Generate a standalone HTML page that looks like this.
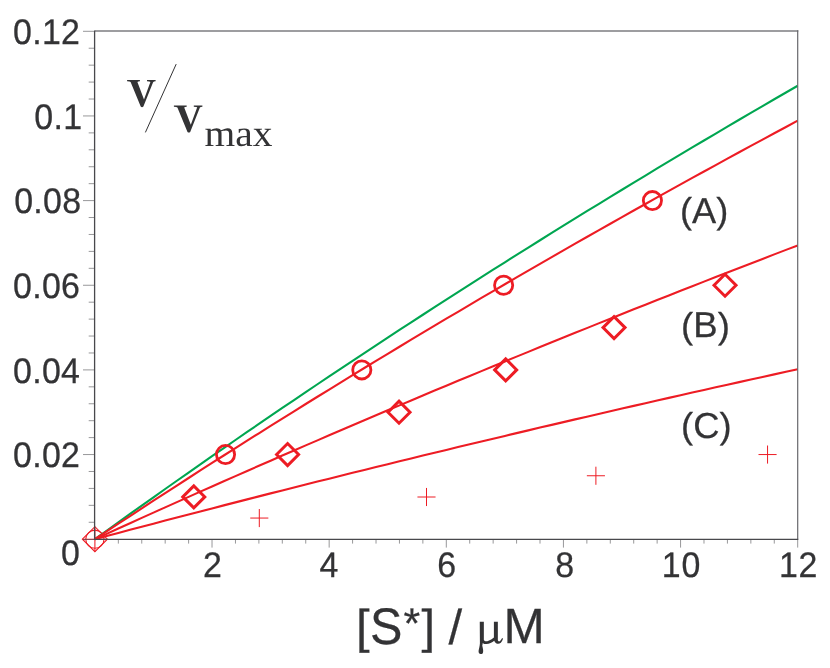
<!DOCTYPE html>
<html><head><meta charset="utf-8"><title>chart</title>
<style>html,body{margin:0;padding:0;background:#fff}svg{display:block;will-change:transform}text{text-rendering:geometricPrecision}</style></head>
<body>
<svg width="830" height="668" viewBox="0 0 830 668">
<rect width="830" height="668" fill="#fff"/>
<g fill="none" stroke="#ed1c24">
<g stroke-width="1.05">
<circle cx="94.9" cy="539.2" r="9.1"/>
<path d="M82.4 539.2 L94.9 526.7 L107.4 539.2 L94.9 551.7 Z"/>
<path d="M82.4 539.2 H107.4 M94.9 526.7 V551.7"/>
</g>
</g>
<line x1="83" y1="539.45" x2="94.9" y2="539.45" stroke="#5a4a50" stroke-width="0.75"/>
<line x1="88.7" y1="522.27" x2="94.9" y2="522.27" stroke="#98989a" stroke-width="1"/>
<line x1="88.7" y1="505.34" x2="94.9" y2="505.34" stroke="#98989a" stroke-width="1"/>
<line x1="88.7" y1="488.41" x2="94.9" y2="488.41" stroke="#98989a" stroke-width="1"/>
<line x1="88.7" y1="471.48" x2="94.9" y2="471.48" stroke="#98989a" stroke-width="1"/>
<line x1="83" y1="454.55" x2="94.9" y2="454.55" stroke="#98989a" stroke-width="1"/>
<line x1="88.7" y1="437.62" x2="94.9" y2="437.62" stroke="#98989a" stroke-width="1"/>
<line x1="88.7" y1="420.69" x2="94.9" y2="420.69" stroke="#98989a" stroke-width="1"/>
<line x1="88.7" y1="403.76" x2="94.9" y2="403.76" stroke="#98989a" stroke-width="1"/>
<line x1="88.7" y1="386.83" x2="94.9" y2="386.83" stroke="#98989a" stroke-width="1"/>
<line x1="83" y1="369.90" x2="94.9" y2="369.90" stroke="#98989a" stroke-width="1"/>
<line x1="88.7" y1="352.97" x2="94.9" y2="352.97" stroke="#98989a" stroke-width="1"/>
<line x1="88.7" y1="336.04" x2="94.9" y2="336.04" stroke="#98989a" stroke-width="1"/>
<line x1="88.7" y1="319.11" x2="94.9" y2="319.11" stroke="#98989a" stroke-width="1"/>
<line x1="88.7" y1="302.18" x2="94.9" y2="302.18" stroke="#98989a" stroke-width="1"/>
<line x1="83" y1="285.25" x2="94.9" y2="285.25" stroke="#98989a" stroke-width="1"/>
<line x1="88.7" y1="268.32" x2="94.9" y2="268.32" stroke="#98989a" stroke-width="1"/>
<line x1="88.7" y1="251.39" x2="94.9" y2="251.39" stroke="#98989a" stroke-width="1"/>
<line x1="88.7" y1="234.46" x2="94.9" y2="234.46" stroke="#98989a" stroke-width="1"/>
<line x1="88.7" y1="217.53" x2="94.9" y2="217.53" stroke="#98989a" stroke-width="1"/>
<line x1="83" y1="200.60" x2="94.9" y2="200.60" stroke="#98989a" stroke-width="1"/>
<line x1="88.7" y1="183.67" x2="94.9" y2="183.67" stroke="#98989a" stroke-width="1"/>
<line x1="88.7" y1="166.74" x2="94.9" y2="166.74" stroke="#98989a" stroke-width="1"/>
<line x1="88.7" y1="149.81" x2="94.9" y2="149.81" stroke="#98989a" stroke-width="1"/>
<line x1="88.7" y1="132.88" x2="94.9" y2="132.88" stroke="#98989a" stroke-width="1"/>
<line x1="83" y1="115.95" x2="94.9" y2="115.95" stroke="#98989a" stroke-width="1"/>
<line x1="88.7" y1="99.02" x2="94.9" y2="99.02" stroke="#98989a" stroke-width="1"/>
<line x1="88.7" y1="82.09" x2="94.9" y2="82.09" stroke="#98989a" stroke-width="1"/>
<line x1="88.7" y1="65.16" x2="94.9" y2="65.16" stroke="#98989a" stroke-width="1"/>
<line x1="88.7" y1="48.23" x2="94.9" y2="48.23" stroke="#98989a" stroke-width="1"/>
<line x1="83" y1="31.30" x2="94.9" y2="31.30" stroke="#98989a" stroke-width="1"/>
<line x1="118.33" y1="539.2" x2="118.33" y2="543.6" stroke="#98989a" stroke-width="1"/>
<line x1="141.75" y1="539.2" x2="141.75" y2="543.6" stroke="#98989a" stroke-width="1"/>
<line x1="165.18" y1="539.2" x2="165.18" y2="543.6" stroke="#98989a" stroke-width="1"/>
<line x1="188.61" y1="539.2" x2="188.61" y2="543.6" stroke="#98989a" stroke-width="1"/>
<line x1="212.03" y1="539.2" x2="212.03" y2="547.6" stroke="#98989a" stroke-width="1"/>
<line x1="235.46" y1="539.2" x2="235.46" y2="543.6" stroke="#98989a" stroke-width="1"/>
<line x1="258.89" y1="539.2" x2="258.89" y2="543.6" stroke="#98989a" stroke-width="1"/>
<line x1="282.31" y1="539.2" x2="282.31" y2="543.6" stroke="#98989a" stroke-width="1"/>
<line x1="305.74" y1="539.2" x2="305.74" y2="543.6" stroke="#98989a" stroke-width="1"/>
<line x1="329.17" y1="539.2" x2="329.17" y2="547.6" stroke="#98989a" stroke-width="1"/>
<line x1="352.59" y1="539.2" x2="352.59" y2="543.6" stroke="#98989a" stroke-width="1"/>
<line x1="376.02" y1="539.2" x2="376.02" y2="543.6" stroke="#98989a" stroke-width="1"/>
<line x1="399.45" y1="539.2" x2="399.45" y2="543.6" stroke="#98989a" stroke-width="1"/>
<line x1="422.87" y1="539.2" x2="422.87" y2="543.6" stroke="#98989a" stroke-width="1"/>
<line x1="446.30" y1="539.2" x2="446.30" y2="547.6" stroke="#98989a" stroke-width="1"/>
<line x1="469.73" y1="539.2" x2="469.73" y2="543.6" stroke="#98989a" stroke-width="1"/>
<line x1="493.15" y1="539.2" x2="493.15" y2="543.6" stroke="#98989a" stroke-width="1"/>
<line x1="516.58" y1="539.2" x2="516.58" y2="543.6" stroke="#98989a" stroke-width="1"/>
<line x1="540.01" y1="539.2" x2="540.01" y2="543.6" stroke="#98989a" stroke-width="1"/>
<line x1="563.43" y1="539.2" x2="563.43" y2="547.6" stroke="#98989a" stroke-width="1"/>
<line x1="586.86" y1="539.2" x2="586.86" y2="543.6" stroke="#98989a" stroke-width="1"/>
<line x1="610.29" y1="539.2" x2="610.29" y2="543.6" stroke="#98989a" stroke-width="1"/>
<line x1="633.71" y1="539.2" x2="633.71" y2="543.6" stroke="#98989a" stroke-width="1"/>
<line x1="657.14" y1="539.2" x2="657.14" y2="543.6" stroke="#98989a" stroke-width="1"/>
<line x1="680.57" y1="539.2" x2="680.57" y2="547.6" stroke="#98989a" stroke-width="1"/>
<line x1="703.99" y1="539.2" x2="703.99" y2="543.6" stroke="#98989a" stroke-width="1"/>
<line x1="727.42" y1="539.2" x2="727.42" y2="543.6" stroke="#98989a" stroke-width="1"/>
<line x1="750.85" y1="539.2" x2="750.85" y2="543.6" stroke="#98989a" stroke-width="1"/>
<line x1="774.27" y1="539.2" x2="774.27" y2="543.6" stroke="#98989a" stroke-width="1"/>
<line x1="797.70" y1="539.2" x2="797.70" y2="547.6" stroke="#98989a" stroke-width="1"/>
<g fill="none" stroke-width="2.1" stroke-linecap="butt" stroke-linejoin="round">
<polyline points="94.90,539.20 106.61,530.75 118.33,522.34 130.04,513.96 141.75,505.61 153.47,497.29 165.18,489.01 176.89,480.76 188.61,472.55 200.32,464.36 212.03,456.21 223.75,448.09 235.46,440.00 247.17,431.94 258.89,423.92 270.60,415.92 282.31,407.96 294.03,400.03 305.74,392.12 317.45,384.25 329.17,376.41 340.88,368.60 352.59,360.82 364.31,353.07 376.02,345.35 387.73,337.65 399.45,329.99 411.16,322.35 422.87,314.75 434.59,307.17 446.30,299.62 458.01,292.10 469.73,284.61 481.44,277.15 493.15,269.71 504.87,262.31 516.58,254.93 528.29,247.58 540.01,240.25 551.72,232.95 563.43,225.68 575.15,218.44 586.86,211.22 598.57,204.03 610.29,196.87 622.00,189.73 633.71,182.62 645.43,175.53 657.14,168.47 668.85,161.44 680.57,154.43 692.28,147.44 703.99,140.49 715.71,133.55 727.42,126.65 739.13,119.76 750.85,112.91 762.56,106.07 774.27,99.26 785.99,92.48 797.70,85.72" stroke="#00a651"/>
<polyline points="94.90,539.20 106.61,531.45 118.33,523.73 130.04,516.03 141.75,508.37 153.47,500.73 165.18,493.13 176.89,485.55 188.61,478.00 200.32,470.47 212.03,462.98 223.75,455.51 235.46,448.07 247.17,440.66 258.89,433.28 270.60,425.92 282.31,418.59 294.03,411.29 305.74,404.01 317.45,396.76 329.17,389.54 340.88,382.34 352.59,375.17 364.31,368.02 376.02,360.90 387.73,353.81 399.45,346.74 411.16,339.70 422.87,332.68 434.59,325.69 446.30,318.72 458.01,311.78 469.73,304.86 481.44,297.97 493.15,291.10 504.87,284.25 516.58,277.43 528.29,270.64 540.01,263.86 551.72,257.12 563.43,250.39 575.15,243.69 586.86,237.01 598.57,230.36 610.29,223.73 622.00,217.12 633.71,210.53 645.43,203.97 657.14,197.43 668.85,190.92 680.57,184.42 692.28,177.95 703.99,171.50 715.71,165.07 727.42,158.67 739.13,152.28 750.85,145.92 762.56,139.58 774.27,133.27 785.99,126.97 797.70,120.69" stroke="#ed1c24"/>
<polyline points="94.90,539.20 106.61,533.85 118.33,528.52 130.04,523.20 141.75,517.90 153.47,512.62 165.18,507.35 176.89,502.10 188.61,496.87 200.32,491.65 212.03,486.45 223.75,481.27 235.46,476.10 247.17,470.94 258.89,465.81 270.60,460.68 282.31,455.58 294.03,450.49 305.74,445.41 317.45,440.35 329.17,435.31 340.88,430.28 352.59,425.27 364.31,420.27 376.02,415.29 387.73,410.32 399.45,405.36 411.16,400.43 422.87,395.50 434.59,390.59 446.30,385.70 458.01,380.82 469.73,375.96 481.44,371.11 493.15,366.27 504.87,361.45 516.58,356.64 528.29,351.85 540.01,347.07 551.72,342.31 563.43,337.56 575.15,332.82 586.86,328.10 598.57,323.39 610.29,318.69 622.00,314.01 633.71,309.35 645.43,304.69 657.14,300.05 668.85,295.43 680.57,290.81 692.28,286.21 703.99,281.63 715.71,277.06 727.42,272.50 739.13,267.95 750.85,263.42 762.56,258.90 774.27,254.39 785.99,249.89 797.70,245.41" stroke="#ed1c24"/>
<polyline points="94.90,539.20 106.61,536.07 118.33,532.95 130.04,529.84 141.75,526.75 153.47,523.66 165.18,520.59 176.89,517.52 188.61,514.47 200.32,511.43 212.03,508.40 223.75,505.37 235.46,502.36 247.17,499.36 258.89,496.37 270.60,493.39 282.31,490.42 294.03,487.47 305.74,484.52 317.45,481.58 329.17,478.65 340.88,475.73 352.59,472.82 364.31,469.92 376.02,467.03 387.73,464.16 399.45,461.29 411.16,458.43 422.87,455.58 434.59,452.74 446.30,449.91 458.01,447.09 469.73,444.27 481.44,441.47 493.15,438.68 504.87,435.90 516.58,433.12 528.29,430.36 540.01,427.60 551.72,424.86 563.43,422.12 575.15,419.39 586.86,416.67 598.57,413.96 610.29,411.26 622.00,408.57 633.71,405.88 645.43,403.21 657.14,400.54 668.85,397.89 680.57,395.24 692.28,392.60 703.99,389.97 715.71,387.34 727.42,384.73 739.13,382.12 750.85,379.53 762.56,376.94 774.27,374.36 785.99,371.78 797.70,369.22" stroke="#ed1c24"/>
</g>
<g fill="none" stroke="#ed1c24">
<circle cx="225.52" cy="454.55" r="9.1" stroke-width="2.8"/>
<circle cx="361.82" cy="369.90" r="9.1" stroke-width="2.8"/>
<circle cx="503.63" cy="285.25" r="9.1" stroke-width="2.8"/>
<circle cx="652.42" cy="200.60" r="9.1" stroke-width="2.8"/>
<path d="M182.79 496.88 L193.79 485.88 L204.79 496.88 L193.79 507.88 Z" stroke-width="3" stroke-linejoin="miter"/>
<path d="M276.58 454.55 L287.58 443.55 L298.58 454.55 L287.58 465.55 Z" stroke-width="3" stroke-linejoin="miter"/>
<path d="M388.03 412.23 L399.03 401.23 L410.03 412.23 L399.03 423.23 Z" stroke-width="3" stroke-linejoin="miter"/>
<path d="M494.69 369.90 L505.69 358.90 L516.69 369.90 L505.69 380.90 Z" stroke-width="3" stroke-linejoin="miter"/>
<path d="M603.04 327.58 L614.04 316.58 L625.04 327.58 L614.04 338.58 Z" stroke-width="3" stroke-linejoin="miter"/>
<path d="M714.03 285.25 L725.03 274.25 L736.03 285.25 L725.03 296.25 Z" stroke-width="3" stroke-linejoin="miter"/>
<path d="M250.25 518.05 H268.35 M259.30 509.00 V527.10" stroke-width="1"/>
<path d="M417.45 497.00 H435.55 M426.50 487.95 V506.05" stroke-width="1"/>
<path d="M586.85 475.75 H604.95 M595.90 466.70 V484.80" stroke-width="1"/>
<path d="M758.50 454.55 H776.60 M767.55 445.50 V463.60" stroke-width="1"/>
</g>
<line x1="94.9" y1="30.9" x2="798.3" y2="30.9" stroke="#7c7c80" stroke-width="1.5"/>
<line x1="797.7" y1="30.2" x2="797.7" y2="539.2" stroke="#68686c" stroke-width="1.2"/>
<line x1="94.6" y1="30.5" x2="94.6" y2="539.8000000000001" stroke="#48484c" stroke-width="1.3"/>
<line x1="94" y1="539.38" x2="798.3" y2="539.38" stroke="#48484c" stroke-width="1.25"/>
<g font-family="Liberation Sans, sans-serif" fill="#333335" stroke="#333335" stroke-width="0.25">
<text transform="translate(80.25 44.00) scale(0.97 1.015)" font-size="35" text-anchor="end" letter-spacing="0.3">0.12</text>
<text transform="translate(82.45 128.65) scale(0.97 1.015)" font-size="35" text-anchor="end" letter-spacing="0.3">0.1</text>
<text transform="translate(81.40 213.30) scale(0.97 1.015)" font-size="35" text-anchor="end" letter-spacing="0.3">0.08</text>
<text transform="translate(80.25 297.95) scale(0.97 1.015)" font-size="35" text-anchor="end" letter-spacing="0.3">0.06</text>
<text transform="translate(80.25 382.60) scale(0.97 1.015)" font-size="35" text-anchor="end" letter-spacing="0.3">0.04</text>
<text transform="translate(80.25 467.25) scale(0.97 1.015)" font-size="35" text-anchor="end" letter-spacing="0.3">0.02</text>
<text transform="translate(79.80 564.60) scale(0.97 1.015)" font-size="35" text-anchor="end">0</text>
<text transform="translate(212.53 577.40) scale(0.97 1.015)" font-size="35" text-anchor="middle">2</text>
<text transform="translate(328.87 577.40) scale(0.97 1.015)" font-size="35" text-anchor="middle">4</text>
<text transform="translate(446.80 577.40) scale(0.97 1.015)" font-size="35" text-anchor="middle">6</text>
<text transform="translate(564.73 577.40) scale(0.97 1.015)" font-size="35" text-anchor="middle">8</text>
<text transform="translate(681.37 577.40) scale(0.97 1.015)" font-size="35" text-anchor="middle" letter-spacing="0.65">10</text>
<text transform="translate(798.50 577.40) scale(0.97 1.015)" font-size="35" text-anchor="middle" letter-spacing="0.65">12</text>
<text transform="translate(679.90 222.60) scale(1.035 1.03)" font-size="35" text-anchor="start"><tspan dy="0.5">(</tspan><tspan dy="-0.5">A</tspan><tspan dy="0.5">)</tspan></text>
<text transform="translate(681.10 337.30) scale(1.045 1.03)" font-size="35" text-anchor="start"><tspan dy="0.5">(</tspan><tspan dy="-0.5">B</tspan><tspan dy="0.5">)</tspan></text>
<text transform="translate(681.10 437.70) scale(1.04 1.03)" font-size="35" text-anchor="start"><tspan dy="0.5">(</tspan><tspan dy="-0.5">C</tspan><tspan dy="0.5">)</tspan></text>
<text transform="translate(356.00 643.00) scale(1.0 0.97)" font-size="49" text-anchor="start">[</text>
<text transform="translate(369.90 643.60) scale(0.99 1.05)" font-size="49" text-anchor="start">S</text>
<text transform="translate(403.50 637.60) scale(1.0 1.0)" font-size="43" text-anchor="start">*</text>
<text transform="translate(421.50 643.00) scale(1.0 0.97)" font-size="49" text-anchor="start">]</text>
<text transform="translate(448.58 643.60) scale(1.0 1.0)" font-size="49" text-anchor="start">/</text>
<text transform="translate(503.40 643.10) scale(1.01 1.01)" font-size="49" text-anchor="start">M</text>
<path d="M479.76 621.69 L483.85 621.69 L483.85 640.01 C484.57 641.59 486.72 641.59 488.52 640.73 C490.67 639.86 492.83 638.57 493.90 637.49 L493.90 621.69 L497.85 621.69 L497.85 640.01 C498.00 641.59 499.65 642.02 500.73 640.37 L502.16 638.00 L503.02 638.71 C501.80 642.52 499.65 644.17 497.49 643.81 C496.06 643.60 494.84 642.52 494.26 640.87 C492.11 642.52 489.24 644.10 486.36 644.10 C484.93 644.10 483.49 643.60 482.77 642.88 L482.27 645.75 C482.77 647.91 483.35 650.06 483.13 651.64 C482.92 653.65 481.69 654.23 480.62 654.08 C479.18 653.94 478.32 652.57 478.61 650.78 C478.89 648.98 479.76 646.47 479.90 643.60 L479.76 621.69 Z" stroke="none" aria-label="μ"/>
</g>
<path d="M127.1 80.1 L139.9 80.1 L139.9 81.3 Q138.0 81.4 137.4 82.0 L144.0 99.4 L150.4 81.9 Q149.8 81.4 147.0 81.3 L147.0 80.1 L155.6 80.1 L155.6 81.3 Q153.7 81.5 153.1 82.2 L143.4 106.6 Q142.0 107.8 140.7 106.6 L130.6 82.0 Q130.0 81.4 127.1 81.3 Z" fill="#333335" aria-label="v"/>
<path d="M127.1 80.1 L139.9 80.1 L139.9 81.3 Q138.0 81.4 137.4 82.0 L144.0 99.4 L150.4 81.9 Q149.8 81.4 147.0 81.3 L147.0 80.1 L155.6 80.1 L155.6 81.3 Q153.7 81.5 153.1 82.2 L143.4 106.6 Q142.0 107.8 140.7 106.6 L130.6 82.0 Q130.0 81.4 127.1 81.3 Z" fill="#333335" transform="translate(46.8 25.4)" aria-label="v"/>
<text transform="translate(204.5 146.1) scale(1.053 1)" font-size="37.5" font-family="Liberation Serif, serif" fill="#333335">max</text>
<line x1="176.2" y1="64.1" x2="145.4" y2="132.4" stroke="#333335" stroke-width="1"/>
</svg>
</body></html>
